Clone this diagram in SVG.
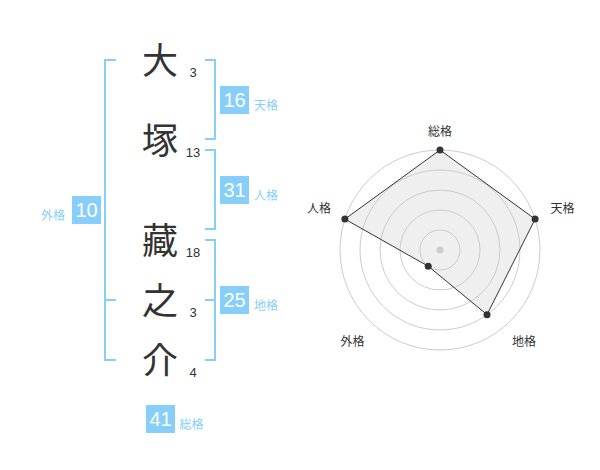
<svg xmlns="http://www.w3.org/2000/svg" width="600" height="470" viewBox="0 0 600 470">
<style>
.ch{font-family:"Noto Sans CJK JP","Noto Sans CJK SC",sans-serif;font-size:36px;font-weight:400;fill:#333;text-anchor:middle}
.st{font-family:"Liberation Sans",Arial,sans-serif;font-size:13px;fill:#333;text-anchor:middle}
.box{fill:#87cefa}
.bn{font-family:"Liberation Sans",Arial,sans-serif;font-size:20px;fill:#fff;text-anchor:middle}
.bl{font-family:"Noto Sans CJK JP","Noto Sans CJK SC",sans-serif;font-size:12px;fill:#87cefa}
.br{fill:none;stroke:#87cefa;stroke-width:2}
.ring{fill:none;stroke:#cccccc;stroke-width:1}
.rl{font-family:"Noto Sans CJK JP","Noto Sans CJK SC",sans-serif;font-size:12px;fill:#333;text-anchor:middle}
.pt{fill:#333}
</style>
<rect width="600" height="470" fill="#fff"/>
<g id="connectors">
<path class="br" d="M116,60 H105 V360 H116 M105,300 H116"/>
<path class="br" d="M205,60 H215 V139 H205"/>
<path class="br" d="M205,150 H215 V229 H205"/>
<path class="br" d="M205,240 H215 V360 H205 M205,300 H215"/>
</g>
<g id="char-1"><text class="ch" x="160" y="73.7">大</text><text class="st" x="193" y="77">3</text></g>
<g id="char-2"><text class="ch" x="160" y="153.7">塚</text><text class="st" x="193" y="157">13</text></g>
<g id="char-3"><text class="ch" x="160" y="253.7">藏</text><text class="st" x="193" y="257">18</text></g>
<g id="char-4"><text class="ch" x="160" y="313.7">之</text><text class="st" x="193" y="317">3</text></g>
<g id="char-5"><text class="ch" x="160" y="373.7">介</text><text class="st" x="193" y="377">4</text></g>
<g id="tenkaku"><rect class="box" x="220" y="86" width="29" height="28"/><text class="bn" x="234.5" y="107">16</text><text class="bl" x="254" y="110">天格</text></g>
<g id="jinkaku"><rect class="box" x="220" y="176" width="29" height="28"/><text class="bn" x="234.5" y="197">31</text><text class="bl" x="254" y="200">人格</text></g>
<g id="chikaku"><rect class="box" x="220" y="286" width="29" height="28"/><text class="bn" x="234.5" y="307">25</text><text class="bl" x="254" y="310">地格</text></g>
<g id="gaikaku"><rect class="box" x="72" y="196" width="29" height="28"/><text class="bn" x="86.5" y="217">10</text><text class="bl" x="41" y="220">外格</text></g>
<g id="soukaku"><rect class="box" x="146" y="405" width="29" height="28"/><text class="bn" x="160.5" y="426">41</text><text class="bl" x="179.5" y="429">総格</text></g>
<g id="radar">
<circle class="ring" cx="440" cy="250" r="100"/>
<polygon points="440,150 535.1,219.1 487,314.7 428.2,266.2 344.9,219.1" fill="#efefef" stroke="none"/>
<circle class="ring" cx="440" cy="250" r="80"/>
<circle class="ring" cx="440" cy="250" r="60"/>
<circle class="ring" cx="440" cy="250" r="40"/>
<circle class="ring" cx="440" cy="250" r="20"/>
<circle cx="440" cy="250" r="3.5" fill="#cccccc"/>
<polygon points="440,150 535.1,219.1 487,314.7 428.2,266.2 344.9,219.1" fill="none" stroke="#333" stroke-width="1"/>
<circle class="pt" cx="440" cy="150" r="3.5"/>
<circle class="pt" cx="535.1" cy="219.1" r="3.5"/>
<circle class="pt" cx="487" cy="314.7" r="3.5"/>
<circle class="pt" cx="428.2" cy="266.2" r="3.5"/>
<circle class="pt" cx="344.9" cy="219.1" r="3.5"/>
<text class="rl" x="440" y="135.5">総格</text>
<text class="rl" x="562.5" y="212.5">天格</text>
<text class="rl" x="319" y="212.5">人格</text>
<text class="rl" x="524" y="346">地格</text>
<text class="rl" x="352.5" y="346">外格</text>
</g>
</svg>
